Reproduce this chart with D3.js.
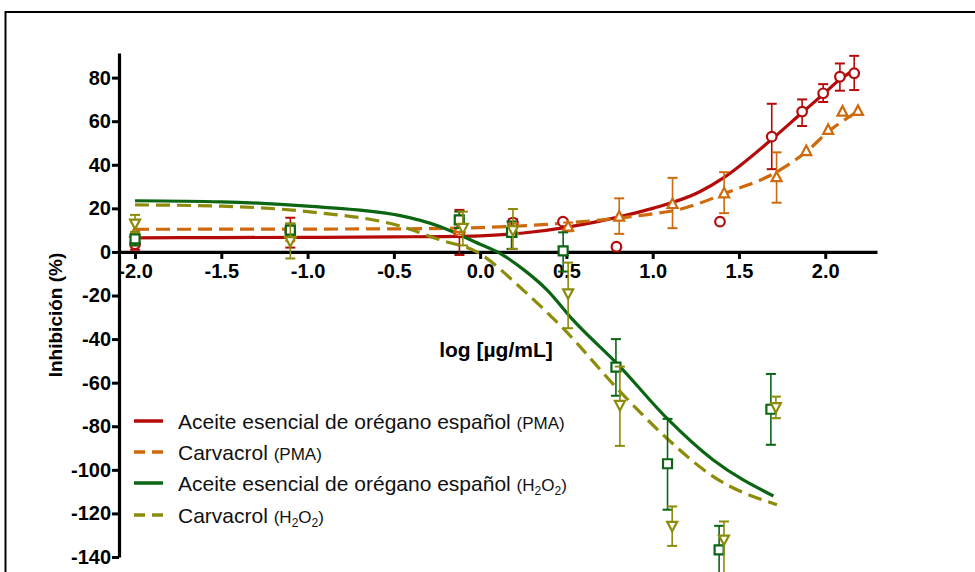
<!DOCTYPE html>
<html>
<head>
<meta charset="utf-8">
<script src="https://cdn.jsdelivr.net/npm/d3@7"></script>
<style>
  html, body { margin: 0; padding: 0; background: #fff; }
  svg { display: block; font-family: Arial, "Liberation Sans", Helvetica, sans-serif; }
</style>
</head>
<body>
<svg id="chart" width="975" height="572"></svg>
<script>
// ---------- DATA ----------
const xTicks = [-2.0, -1.5, -1.0, -0.5, 0.0, 0.5, 1.0, 1.5, 2.0];
const yTicks = [-140, -120, -100, -80, -60, -40, -20, 0, 20, 40, 60, 80];

const seriesNames = ["Aceite esencial de orégano español", "Carvacrol", "Aceite esencial de orégano español", "Carvacrol"];
const seriesTags = ["PMA", "PMA", "H2O2", "H2O2"];
const seriesColors = ["#B50A0A", "#CF6A0C", "#0B6512", "#8C8C0A"];

// observed points: log dose, mean, lower, upper
const aceitePMA_x  = [-2.0, -1.1, -0.12, 0.19, 0.48, 0.79, 1.39, 1.69, 1.866, 1.988, 2.085, 2.168];
const aceitePMA_y  = [3.5, 9, 9, 13.5, 13.9, 2.4, 13.9, 52.9, 64.4, 72.8, 80.4, 82];
const aceitePMA_lo = [1, 2, -1.4, 12, 13.9, 2.4, 13.9, 38, 57.8, 68.8, 74, 74.3];
const aceitePMA_hi = [6, 15.7, 19.3, 15, 13.9, 2.4, 13.9, 68, 70, 77, 86.5, 90];

const carvPMA_x  = [-2.0, -1.1, -0.12, 0.19, 0.51, 0.806, 1.115, 1.414, 1.718, 1.89, 2.017, 2.10, 2.19];
const carvPMA_y  = [9, 8.5, 11, 10, 11.6, 16.2, 22, 26.9, 34.3, 46.3, 56, 64.4, 64.7];
const carvPMA_lo = [3, 5, 8, 7, 9.5, 8.3, 10.9, 17.8, 22.6, 46.3, 56, 64.4, 64.7];
const carvPMA_hi = [14, 12, 14, 13, 13.5, 24.6, 34, 36.6, 45.7, 46.3, 56, 64.4, 64.7];

const aceiteH2O2_x  = [-2.0, -1.1, -0.121, 0.182, 0.481, 0.787, 1.086, 1.385, 1.685];
const aceiteH2O2_y  = [6, 10, 14.7, 9, 0.5, -52.9, -97.2, -136.7, -72.2];
const aceiteH2O2_lo = [3, 7, 11, 1.4, -9, -66, -118.3, -148, -88.5];
const aceiteH2O2_hi = [9, 13, 18.5, 14, 9, -40, -76.6, -125.7, -56];

const carvH2O2_x  = [-2.0, -1.1, -0.10, 0.19, 0.51, 0.81, 1.113, 1.413, 1.714];
const carvH2O2_y  = [13, 5, 11, 10, -19, -70.2, -125.7, -132, -71.2];
const carvH2O2_lo = [9, -3, 3, 1.4, -35, -89, -134.9, -148, -76.3];
const carvH2O2_hi = [17, 13, 18.5, 19.7, -4.9, -52.6, -116.8, -123.7, -66.4];

// fitted curves
const fitAceitePMA_x = [-2.0, -1.5, -1.0, -0.5, 0.0, 0.25, 0.5, 0.8, 1.0, 1.27, 1.41, 1.68, 1.86, 1.99, 2.09, 2.17];
const fitAceitePMA_y = [6.5, 6.6, 6.7, 6.9, 7.4, 8.7, 11.3, 16, 20, 27.5, 34, 51, 63.5, 72.5, 79.5, 83.5];
const fitCarvPMA_x = [-2.0, -1.0, -0.5, 0.0, 0.5, 0.8, 1.0, 1.16, 1.27, 1.41, 1.72, 1.89, 2.03, 2.18];
const fitCarvPMA_y = [10.4, 10.5, 10.6, 11.2, 13.3, 15.5, 17.5, 19.6, 22.3, 26.6, 36.8, 46, 56, 64];
const fitAceiteH2O2_x = [-2.0, -1.5, -1.0, -0.47, -0.23, 0.0, 0.1, 0.25, 0.387, 0.538, 0.81, 1.082, 1.349, 1.70];
const fitAceiteH2O2_y = [23.5, 23, 21, 16.8, 11.6, 3.5, 0, -8, -17.4, -31.2, -52.6, -76.3, -95.4, -112];
const fitCarvH2O2_x = [-2.0, -1.5, -1.0, -0.47, -0.23, -0.02, 0.248, 0.48, 0.81, 1.082, 1.349, 1.72];
const fitCarvH2O2_y = [21.6, 21, 18.5, 12, 5.5, 0, -17.4, -35, -64, -85.5, -103, -116];

// ---------- BUILD ----------
const points = [
  {x: aceitePMA_x, y: aceitePMA_y, lo: aceitePMA_lo, hi: aceitePMA_hi, shape: "circle"},
  {x: carvPMA_x, y: carvPMA_y, lo: carvPMA_lo, hi: carvPMA_hi, shape: "triUp"},
  {x: aceiteH2O2_x, y: aceiteH2O2_y, lo: aceiteH2O2_lo, hi: aceiteH2O2_hi, shape: "square"},
  {x: carvH2O2_x, y: carvH2O2_y, lo: carvH2O2_lo, hi: carvH2O2_hi, shape: "triDown"}
];
const fits = [
  {x: fitAceitePMA_x, y: fitAceitePMA_y, dash: null},
  {x: fitCarvPMA_x, y: fitCarvPMA_y, dash: "14,7"},
  {x: fitAceiteH2O2_x, y: fitAceiteH2O2_y, dash: null},
  {x: fitCarvH2O2_x, y: fitCarvH2O2_y, dash: "14,7"}
];

const svg = d3.select("#chart");
const FONT = 'Arial, "Liberation Sans", Helvetica, sans-serif';

// outer frame
svg.append("rect").attr("x", 5.5).attr("y", 12).attr("width", 1100).attr("height", 1000)
  .attr("fill", "none").attr("stroke", "#000").attr("stroke-width", 2);

const x = d3.scaleLinear().domain([-2.093, 2.30]).range([119, 877]);
const y = d3.scaleLinear().domain([-140, 91.3]).range([557, 53]);

// Y axis
const yAxis = svg.append("g").attr("transform", `translate(${x(-2.093)},0)`)
  .call(d3.axisLeft(y).tickValues(yTicks).tickSize(7).tickSizeOuter(0).tickFormat(d => String(d)));
yAxis.select(".domain").attr("stroke-width", 3.2);
yAxis.selectAll(".tick line").attr("stroke-width", 3);
yAxis.selectAll(".tick text").attr("font-size", 20).attr("font-weight", "bold")
  .attr("font-family", FONT).attr("fill", "#000").attr("x", -8);

// X axis at y = 0
const xAxis = svg.append("g").attr("transform", `translate(0,${y(0)})`)
  .call(d3.axisBottom(x).tickValues(xTicks).tickSize(7).tickSizeOuter(0).tickFormat(d => d.toFixed(1)));
xAxis.select(".domain").attr("stroke-width", 3.2);
xAxis.selectAll(".tick line").attr("stroke-width", 3);
xAxis.selectAll(".tick text").attr("font-size", 20).attr("font-weight", "bold")
  .attr("font-family", FONT).attr("fill", "#000").attr("y", 12);

// axis titles
svg.append("text").attr("x", 496).attr("y", 357).attr("text-anchor", "middle")
  .attr("font-size", 21).attr("font-weight", "bold").attr("font-family", FONT)
  .text("log [µg/mL]");
svg.append("text").attr("transform", "translate(62,315) rotate(-90)").attr("text-anchor", "middle")
  .attr("font-size", 19).attr("font-weight", "bold").attr("font-family", FONT)
  .text("Inhibición (%)");

// fitted curves
const line = d3.line().x(d => x(d[0])).y(d => y(d[1])).curve(d3.curveMonotoneX);
fits.forEach((f, i) => {
  const pts = f.x.map((v, k) => [v, f.y[k]]);
  svg.append("path").attr("d", line(pts)).attr("fill", "none")
    .attr("stroke", seriesColors[i]).attr("stroke-width", 3.2)
    .attr("stroke-dasharray", f.dash);
});

// error bars + markers
function markerPath(shape) {
  if (shape === "triUp") return "M0,-5.5L5,4L-5,4Z";
  if (shape === "triDown") return "M0,5.5L5,-4L-5,-4Z";
  if (shape === "square") return "M-4.5,-4.5H4.5V4.5H-4.5Z";
  return null;
}
points.forEach((s, i) => {
  const g = svg.append("g");
  const c = seriesColors[i];
  s.x.forEach((xv, k) => {
    const px = x(xv), lo = y(s.lo[k]), hi = y(s.hi[k]);
    if (Math.abs(lo - hi) > 1) {
      g.append("line").attr("x1", px).attr("x2", px).attr("y1", lo).attr("y2", hi)
        .attr("stroke", c).attr("stroke-width", 1.6);
      [lo, hi].forEach(yy => g.append("line").attr("x1", px - 5).attr("x2", px + 5)
        .attr("y1", yy).attr("y2", yy).attr("stroke", c).attr("stroke-width", 2));
    }
  });
  s.x.forEach((xv, k) => {
    const px = x(xv), py = y(s.y[k]);
    if (s.shape === "circle") {
      g.append("circle").attr("cx", px).attr("cy", py).attr("r", 4.8)
        .attr("fill", "#fff").attr("stroke", c).attr("stroke-width", 2.2);
    } else {
      g.append("path").attr("d", markerPath(s.shape)).attr("transform", `translate(${px},${py})`)
        .attr("fill", "#fff").attr("stroke", c).attr("stroke-width", 2.2);
    }
  });
});

// legend
const legendY = [421, 452, 483, 515];
seriesNames.forEach((name, i) => {
  const ly = legendY[i];
  svg.append("line").attr("x1", 134).attr("x2", 163).attr("y1", ly).attr("y2", ly)
    .attr("stroke", seriesColors[i]).attr("stroke-width", 3.5)
    .attr("stroke-dasharray", fits[i].dash ? "11,7" : null);
  const t = svg.append("text").attr("x", 178).attr("y", ly + 7.5)
    .attr("font-family", FONT).attr("font-size", 21).attr("fill", "#111");
  t.append("tspan").text(name + " ");
  if (seriesTags[i] === "PMA") {
    t.append("tspan").attr("font-size", 17).text("(PMA)");
  } else {
    t.append("tspan").attr("font-size", 17).text("(H");
    t.append("tspan").attr("font-size", 12).attr("dy", 4).text("2");
    t.append("tspan").attr("font-size", 17).attr("dy", -4).text("O");
    t.append("tspan").attr("font-size", 12).attr("dy", 4).text("2");
    t.append("tspan").attr("font-size", 17).attr("dy", -4).text(")");
  }
});
</script>
</body>
</html>
